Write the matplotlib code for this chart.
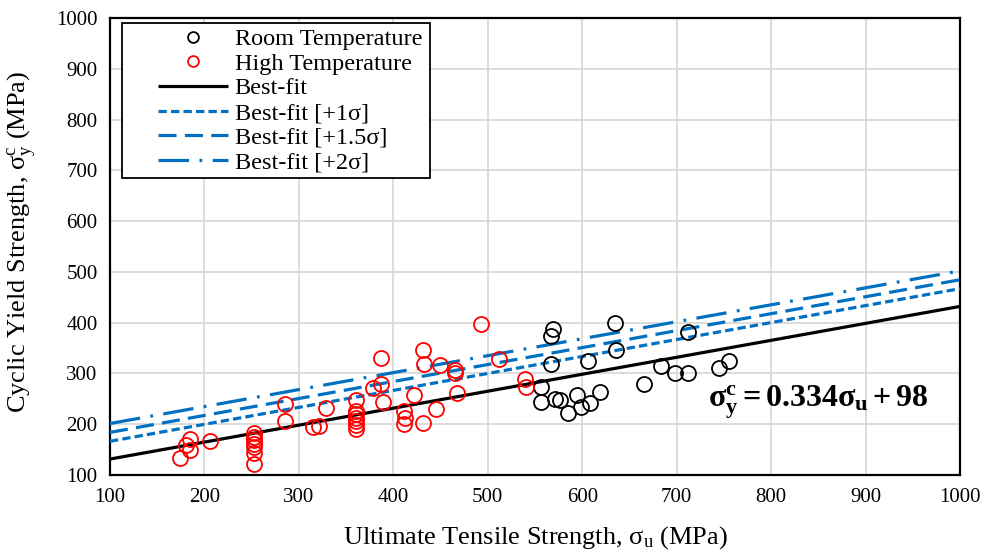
import numpy as np
import matplotlib
matplotlib.use("Agg")
import matplotlib.pyplot as plt
from matplotlib.patches import Rectangle

plt.rcParams["font.family"] = ["Liberation Serif", "DejaVu Serif"]
plt.rcParams["mathtext.fontset"] = "custom"
plt.rcParams["mathtext.rm"] = "Liberation Serif"
plt.rcParams["mathtext.it"] = "Liberation Serif:italic"
plt.rcParams["mathtext.bf"] = "Liberation Serif:bold"
plt.rcParams["lines.scale_dashes"] = False

# Room temperature tests: ultimate tensile strength vs cyclic yield strength (MPa)
room_su = [569, 567, 567, 556, 556, 571, 577, 585, 595, 599, 608, 619, 606,
           635, 636, 665, 683, 698, 712, 712, 745, 755]
room_sy = [387, 374, 318, 273, 244, 250, 248, 223, 257, 234, 241, 264, 324,
           399, 347, 279, 315, 300, 301, 382, 310, 325]

# High temperature tests
high_su = [174, 180, 185, 185, 206, 252, 252, 252, 252, 252, 252, 252,
           285, 285, 315, 321, 329, 360, 360, 360, 360, 360, 360, 360,
           378, 387, 387, 389, 411, 412, 411, 422, 431, 432, 431, 445,
           449, 465, 465, 467, 493, 512, 539, 540]
high_sy = [134, 159, 170, 149, 167, 122, 143, 155, 162, 168, 175, 182,
           240, 207, 194, 197, 232, 247, 227, 220, 213, 206, 199, 191,
           271, 279, 331, 244, 227, 212, 201, 257, 346, 319, 203, 229,
           317, 307, 300, 262, 397, 328, 289, 274]

# Best-fit relation and standard deviation of the fit
slope = 0.334
intercept = 98
sigma = 35
band_k = [1.0, 1.5, 2.0]
x_fit = np.array([100, 1000])

W, H = 987, 553
fig = plt.figure(figsize=(W / 100, H / 100), dpi=100)
ax = fig.add_axes([110 / W, 1 - 475 / H, 850 / W, 457 / H])


def ax_frac(px, py):
    """Pixel position in the figure to axes fraction."""
    return (px - 110) / 850, (475 - py) / 457


blue = "#0070C0"
ax.plot(room_su, room_sy, "o", ls="none", mfc="none", mec="black", ms=10.8,
        mew=1.3, label="Room Temperature", zorder=4)
ax.plot(high_su, high_sy, "o", ls="none", mfc="none", mec="red", ms=10.8,
        mew=1.3, label="High Temperature", zorder=4)
ax.plot(x_fit, slope * x_fit + intercept, color="black", lw=2.3,
        label="Best-fit", zorder=3, solid_capstyle="butt")

dash_styles = [(0, (6.0, 3.0)), (0, (13.0, 6.0)), (0, (22.0, 7.5, 2.0, 7.5))]
band_labels = ["Best-fit [+1σ]", "Best-fit [+1.5σ]", "Best-fit [+2σ]"]
for k, ls, lab in zip(band_k, dash_styles, band_labels):
    ax.plot(x_fit, slope * x_fit + intercept + k * sigma, color=blue, lw=2.3,
            ls=ls, label=lab, zorder=3, dash_capstyle="butt")

ax.set_xlim(100, 1000)
ax.set_ylim(100, 1000)
ax.set_xticks(np.arange(100, 1001, 100))
ax.set_yticks(np.arange(100, 1001, 100))
ax.tick_params(length=0, labelsize=15, pad=9)
ax.grid(True, color="#d9d9d9", lw=1.3)
ax.set_axisbelow(True)
for s in ax.spines.values():
    s.set_color("black")
    s.set_linewidth(1.6)

fig.text(535 / W, 1 - 538 / H, r"Ultimate Tensile Strength, $\mathrm{σ_u}$ (MPa)",
         fontsize=19, ha="center", va="center")
fig.text(22 / W, 1 - 242 / H, r"Cyclic Yield Strength, $\mathrm{σ_y^c}$ (MPa)",
         fontsize=19, ha="center", va="center", rotation=90)

ax.text(850, 243, r"$\mathbf{σ_y^c = 0.334σ_u + 98}$", fontsize=23,
        ha="center", va="center", zorder=5)

# legend box drawn as its own rectangle so the entries can sit inset
x0, y0 = ax_frac(122, 178)
x1, y1 = ax_frac(430, 23)
ax.add_patch(Rectangle((x0, y0), x1 - x0, y1 - y0, transform=ax.transAxes,
                       facecolor="white", edgecolor="black", lw=1.3, zorder=6))
leg = ax.legend(loc="upper left", bbox_to_anchor=ax_frac(158, 28),
                borderaxespad=0, fontsize=17.5, handlelength=2.9, handletextpad=0.25,
                labelspacing=0.11, borderpad=0, markerscale=0.72, frameon=False)
leg.set_zorder(7)

fig.savefig("out.png", dpi=100)
